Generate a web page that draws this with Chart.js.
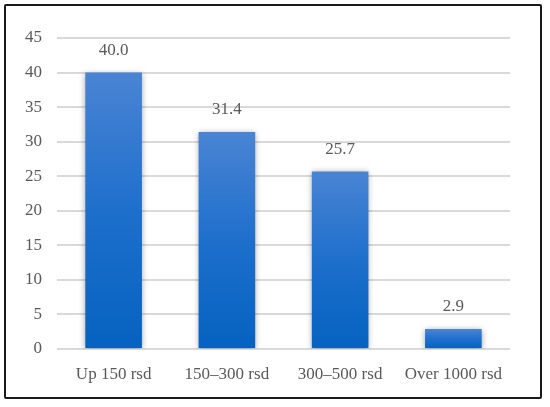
<!DOCTYPE html>
<html>
<head>
<meta charset="utf-8">
<script src="https://cdn.jsdelivr.net/npm/chart.js@4"></script>
<style>
  body { margin: 0; background: #fff; }
  #wrap { position: absolute; left: 0; top: 0; width: 550px; height: 407px; }
  #frame { position: absolute; left: 4px; top: 4px; width: 534px; height: 391px; border: 2px solid #1a1a1a; border-radius: 2px; pointer-events: none; }
</style>
</head>
<body>
<div id="wrap">
  <canvas id="myChart" width="550" height="407"></canvas>
  <div id="frame"></div>
</div>
<script>
const categories = ['Up 150 rsd', '150\u2013300 rsd', '300\u2013500 rsd', 'Over 1000 rsd'];
const shares = [40.0, 31.4, 25.7, 2.9];
const yTicks = [0, 5, 10, 15, 20, 25, 30, 35, 40, 45];

const ctx = document.getElementById('myChart').getContext('2d');
const textColor = '#595959';
const serif = 'Liberation Serif, Times New Roman, serif';

// soft shadow around the bars
const barShadow = {
  id: 'barShadow',
  beforeDatasetsDraw(chart) {
    const c = chart.ctx;
    c.save();
    c.shadowColor = 'rgba(0,0,0,0.35)';
    c.shadowBlur = 6;
    c.shadowOffsetX = 0;
    c.shadowOffsetY = 1;
  },
  afterDatasetsDraw(chart) {
    chart.ctx.restore();
  }
};

// value labels above bars
const valueLabels = {
  id: 'valueLabels',
  afterDraw(chart) {
    const c = chart.ctx;
    const meta = chart.getDatasetMeta(0);
    c.save();
    c.font = '17px ' + serif;
    c.fillStyle = textColor;
    c.textAlign = 'center';
    c.textBaseline = 'middle';
    meta.data.forEach((bar, i) => {
      c.fillText(shares[i].toFixed(1), bar.x, bar.y - 22);
    });
    c.restore();
  }
};

function barGradient(context) {
  const chart = context.chart;
  if (!chart.chartArea) return '#0563c0';
  const yScale = chart.scales.y;
  const top = yScale.getPixelForValue(shares[context.dataIndex]);
  const bottom = yScale.getPixelForValue(0);
  const g = chart.ctx.createLinearGradient(0, top, 0, bottom);
  g.addColorStop(0, '#4a84d4');
  g.addColorStop(0.5, '#1e6fcc');
  g.addColorStop(1, '#0562c0');
  return g;
}

const myChart = new Chart(ctx, {
  type: 'bar',
  data: {
    labels: categories,
    datasets: [{
      data: shares,
      backgroundColor: barGradient,
      borderWidth: 0,
      categoryPercentage: 1.0,
      barPercentage: 0.5
    }]
  },
  options: {
    responsive: false,
    animation: false,
    layout: { padding: { left: 0, right: 40, top: 38, bottom: 0 } },
    plugins: {
      legend: { display: false },
      tooltip: { enabled: false }
    },
    scales: {
      x: {
        grid: { display: false },
        border: { display: false },
        ticks: { color: textColor, font: { family: serif, size: 17 }, padding: 7 },
        afterFit(s) { s.height = 58; }
      },
      y: {
        min: 0,
        max: 45,
        afterBuildTicks(s) { s.ticks = yTicks.map(v => ({ value: v })); },
        grid: { color: '#d9d9d9', lineWidth: 2, drawTicks: false },
        border: { display: false },
        ticks: { color: textColor, font: { family: serif, size: 17 }, padding: 15 },
        afterFit(s) { s.width = 57; }
      }
    }
  },
  plugins: [barShadow, valueLabels]
});
</script>
</body>
</html>
